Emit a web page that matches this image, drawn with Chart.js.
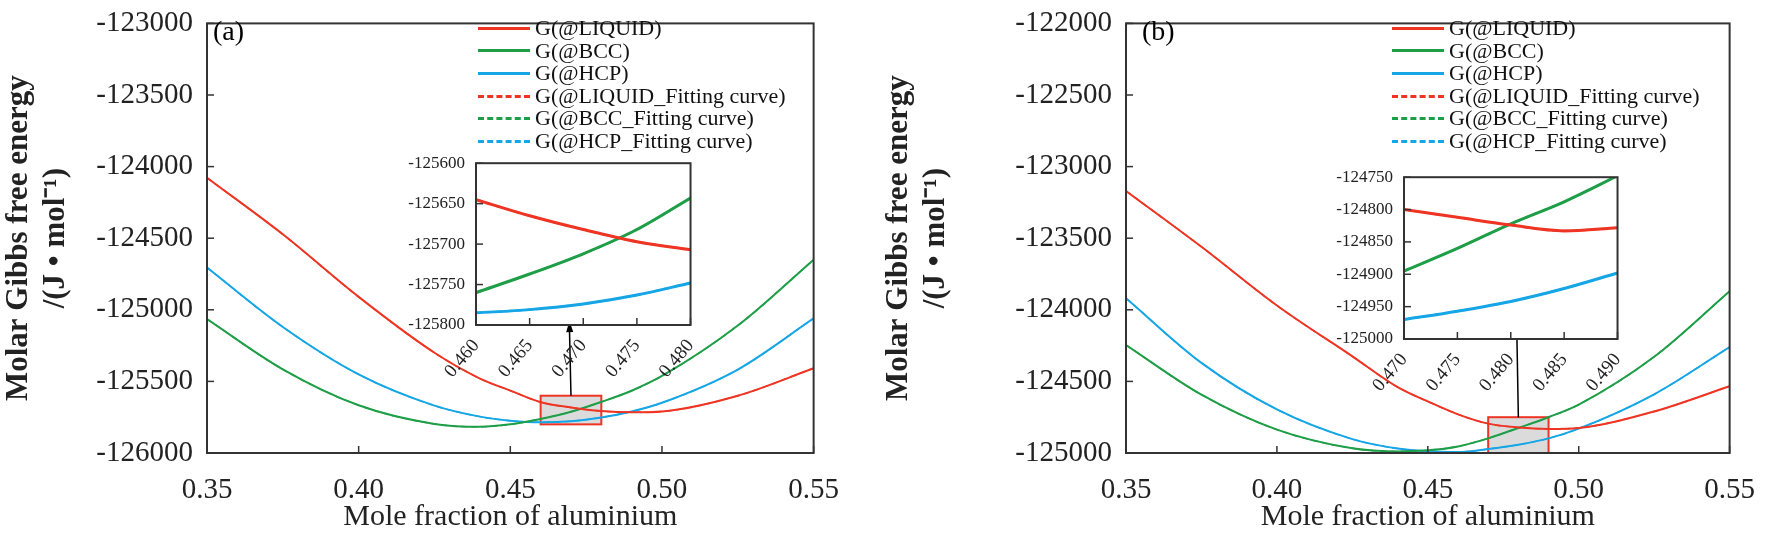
<!DOCTYPE html>
<html>
<head>
<meta charset="UTF-8">
<title>Gibbs free energy</title>
<style>
  body { margin:0; background:#fff; width:1773px; height:535px; position:relative; overflow:hidden; font-family:"Liberation Serif", serif; }
  canvas { position:absolute; }
  .legend { position:absolute; font-size:22px; line-height:22.6px; color:#111; }
  .legend div { display:flex; align-items:center; white-space:nowrap; }
  .legend span.s { display:inline-block; width:52px; height:0; margin-right:5px; }
  .tag { position:absolute; font-size:28px; }
</style>
<script src="https://cdn.jsdelivr.net/npm/chart.js"></script>
</head>
<body>
<canvas id="mainA" style="left:0;top:0" width="851" height="535"></canvas>
<canvas id="mainB" style="left:880px;top:0" width="887" height="535"></canvas>
<canvas id="insetA" style="left:396px;top:150px" width="314" height="250"></canvas>
<canvas id="insetB" style="left:1324px;top:164px" width="313" height="250"></canvas>
<div class="tag" style="left:213px;top:15px">(a)</div>
<div class="tag" style="left:1142px;top:15px">(b)</div>
<div class="legend" id="legA" style="left:478px;top:17px"></div>
<div class="legend" id="legB" style="left:1392px;top:17px"></div>
<script>
// ---- data ----
const xMain = [0.35, 0.375, 0.40, 0.425, 0.44, 0.45, 0.46, 0.47, 0.48, 0.49, 0.50, 0.525, 0.55];
const liqA = [-124078, -124473, -124910, -125300, -125480, -125564, -125645, -125682, -125707, -125716, -125710, -125600, -125408];
const bccA = [-125065, -125416, -125667, -125797, -125817, -125800, -125762, -125712, -125643, -125565, -125462, -125110, -124650];
const hcpA = [-124705, -125120, -125451, -125669, -125746, -125775, -125786, -125778, -125752, -125710, -125649, -125417, -125060];
const liqB = [-123170, -123560, -123970, -124325, -124540, -124640, -124730, -124795, -124822, -124832, -124825, -124710, -124534];
const bccB = [-124246, -124593, -124837, -124967, -124989, -124981, -124954, -124898, -124825, -124750, -124662, -124328, -123870];
const hcpB = [-123919, -124371, -124696, -124903, -124969, -124988, -124993, -124972, -124942, -124898, -124830, -124590, -124260];

const xInsetA = [0.460, 0.465, 0.470, 0.475, 0.480];
const liqInA = [-125645, -125665, -125682, -125697, -125707];
const bccInA = [-125760, -125737, -125712, -125682, -125643];
const hcpInA = [-125785, -125781, -125774, -125763, -125748];
const xInsetB = [0.470, 0.475, 0.480, 0.485, 0.490];
const liqInB = [-124800, -124812, -124824, -124833, -124828];
const bccInB = [-124895, -124860, -124822, -124788, -124748];
const hcpInB = [-124970, -124957, -124942, -124922, -124898];

const names = ['G(@LIQUID)', 'G(@BCC)', 'G(@HCP)', 'G(@LIQUID_Fitting curve)', 'G(@BCC_Fitting curve)', 'G(@HCP_Fitting curve)'];
const colors = ['#ee3524', '#1f9e48', '#16a6e6'];

const serif = '"Liberation Serif", serif';

function pts(xs, ys) { return xs.map((x, i) => ({ x: x, y: ys[i] })); }

function sets(xs, arr, w) {
  const out = [];
  arr.forEach((ys, i) => out.push({ label: names[i], data: pts(xs, ys), borderColor: colors[i], borderWidth: w, pointRadius: 0, cubicInterpolationMode: 'monotone', fill: false }));
  arr.forEach((ys, i) => out.push({ label: names[i + 3], data: pts(xs, ys), borderColor: colors[i], borderWidth: w * 0.7, borderDash: [6, 4], pointRadius: 0, cubicInterpolationMode: 'monotone', fill: false }));
  return out;
}

const frame = {
  id: 'frame',
  beforeDatasetsDraw(chart, args, o) {
    const a = chart.chartArea, c = chart.ctx;
    if (o.white) { c.save(); c.fillStyle = '#fff'; c.fillRect(a.left, a.top, a.right - a.left, a.bottom - a.top); c.restore(); }
    if (o.box) {
      const xs = chart.scales.x, ys = chart.scales.y, b = o.box;
      const l = xs.getPixelForValue(b[0]), r = xs.getPixelForValue(b[1]);
      const t = ys.getPixelForValue(b[3]), bt = ys.getPixelForValue(b[2]);
      c.save();
      c.fillStyle = 'rgba(190,190,190,0.55)';
      c.fillRect(l, t, r - l, bt - t);
      c.strokeStyle = '#ee3524'; c.lineWidth = 2;
      c.strokeRect(l, t, r - l, bt - t);
      // arrow up to inset
      const cx = (l + r) / 2, tipX = xs.getPixelForValue(b[4]), tipY = t - o.arrow;
      c.strokeStyle = '#000'; c.fillStyle = '#000'; c.lineWidth = 1.5;
      c.beginPath(); c.moveTo(cx, t); c.lineTo(tipX, tipY + 8); c.stroke();
      const ang = Math.atan2(tipY - t, tipX - cx);
      c.beginPath(); c.moveTo(tipX, tipY);
      c.lineTo(tipX - 12 * Math.cos(ang - 0.3), tipY - 12 * Math.sin(ang - 0.3));
      c.lineTo(tipX - 12 * Math.cos(ang + 0.3), tipY - 12 * Math.sin(ang + 0.3));
      c.closePath(); c.fill();
      c.restore();
    }
  },
  afterDraw(chart) {
    const a = chart.chartArea, c = chart.ctx;
    c.save(); c.strokeStyle = '#333'; c.lineWidth = 2;
    c.strokeRect(a.left, a.top, a.right - a.left, a.bottom - a.top);
    // inward ticks
    c.lineWidth = 1.5;
    chart.scales.x.ticks.forEach(t => { const p = chart.scales.x.getPixelForValue(t.value); c.beginPath(); c.moveTo(p, a.bottom); c.lineTo(p, a.bottom - 7); c.stroke(); });
    chart.scales.y.ticks.forEach(t => { const p = chart.scales.y.getPixelForValue(t.value); c.beginPath(); c.moveTo(a.left, p); c.lineTo(a.left + 7, p); c.stroke(); });
    c.restore();
  }
};

function mainChart(id, arr, yMin, yStep, box, arrow, yW) {
  return new Chart(document.getElementById(id), {
    type: 'line',
    data: { datasets: sets(xMain, arr, 2) },
    plugins: [frame],
    options: {
      responsive: false, animation: false,
      layout: { padding: { top: 0, right: 0, left: 0, bottom: 0 } },
      plugins: { legend: { display: false }, tooltip: { enabled: false }, frame: { box: box, arrow: arrow } },
      scales: {
        x: {
          type: 'linear', min: 0.35, max: 0.55,
          afterFit: s => { s.height = 82; },
          grid: { display: false }, border: { display: false },
          ticks: { stepSize: 0.05, color: '#222', padding: 12, font: { family: serif, size: 29 }, callback: v => v.toFixed(2) },
          title: { display: true, text: 'Mole fraction of aluminium', color: '#222', font: { family: serif, size: 30 }, padding: { top: 0, bottom: 0 } }
        },
        y: {
          min: yMin, max: yMin + yStep * 6,
          afterFit: s => { s.width = yW; },
          grid: { display: false }, border: { display: false },
          ticks: { stepSize: yStep, color: '#222', padding: 6, font: { family: serif, size: 29 }, callback: v => String(v) },
          title: { display: true, text: ['Molar Gibbs free energy', '/(J \u2022 mol\u207B\u00B9)'], color: '#222', font: { family: serif, size: 31, weight: 'bold' }, padding: 0 }
        }
      }
    }
  });
}

function insetChart(id, xs, arr, yMin, yMax, xMin, xMax) {
  return new Chart(document.getElementById(id), {
    type: 'line',
    data: { datasets: sets(xs, arr, 3) },
    plugins: [frame],
    options: {
      responsive: false, animation: false,
      layout: { padding: { top: 12, right: 10, left: 0, bottom: 0 } },
      plugins: { legend: { display: false }, tooltip: { enabled: false }, frame: { white: true } },
      scales: {
        x: {
          type: 'linear', min: xMin, max: xMax,
          afterFit: s => { s.height = 75; },
          grid: { display: false }, border: { display: false },
          ticks: { stepSize: 0.005, color: '#222', padding: 2, maxRotation: 50, minRotation: 50, font: { family: serif, size: 19 }, callback: v => v.toFixed(3) }
        },
        y: {
          min: yMin, max: yMax,
          afterFit: s => { s.width = 80; },
          grid: { display: false }, border: { display: false },
          ticks: { stepSize: 50, color: '#222', padding: 3, font: { family: serif, size: 17 }, callback: v => String(v) }
        }
      }
    }
  });
}

mainChart('mainA', [liqA, bccA, hcpA], -126000, 500, [0.46, 0.48, -125800, -125600, 0.4695], 75, 207);
mainChart('mainB', [liqB, bccB, hcpB], -125000, 500, [0.47, 0.49, -125000, -124750, 0.4795], 92, 246);
insetChart('insetA', xInsetA, [liqInA, bccInA, hcpInA], -125800, -125600, 0.46, 0.48);
insetChart('insetB', xInsetB, [liqInB, bccInB, hcpInB], -125000, -124750, 0.47, 0.49);

function legend(id) {
  const el = document.getElementById(id);
  names.forEach((n, i) => {
    const c = colors[i % 3];
    const style = i < 3 ? 'border-top:3px solid ' + c : 'border-top:3px dashed ' + c;
    el.innerHTML += '<div><span class="s" style="' + style + '"></span>' + n + '</div>';
  });
}
legend('legA');
legend('legB');
</script>
</body>
</html>
